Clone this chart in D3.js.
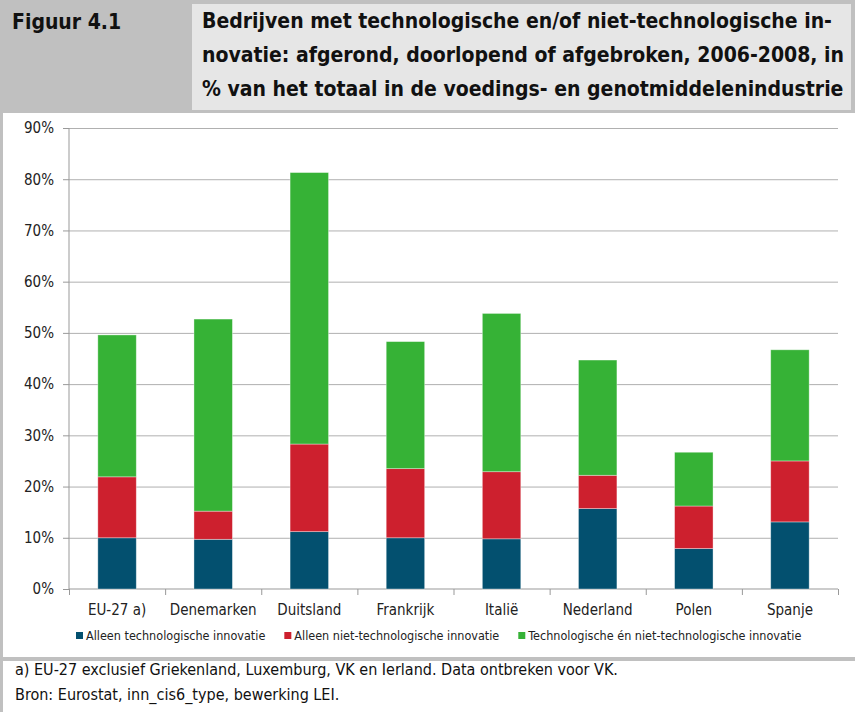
<!DOCTYPE html>
<html>
<head>
<meta charset="utf-8">
<script src="https://cdn.jsdelivr.net/npm/d3@7"></script>
<style>
  body { margin: 0; background: #c0c0c0; }
  svg { display: block; font-family: "DejaVu Sans Condensed", "Liberation Sans", sans-serif; }
</style>
</head>
<body>
<div id="chart"></div>
<script>
// ---------------------------DATA---------------------------//
const categories = ["EU-27 a)", "Denemarken", "Duitsland", "Frankrijk", "Italië", "Nederland", "Polen", "Spanje"];
const seriesNames = ["Alleen technologische innovatie", "Alleen niet-technologische innovatie", "Technologische én niet-technologische innovatie"];
const alleenTech = [10.0, 9.7, 11.2, 10.0, 9.8, 15.7, 7.9, 13.1];
const alleenNietTech = [11.9, 5.5, 17.1, 13.5, 13.1, 6.5, 8.3, 11.9];
const beide = [27.7, 37.5, 53.0, 24.8, 30.9, 22.5, 10.5, 21.7];
const yTicks = [0, 10, 20, 30, 40, 50, 60, 70, 80, 90];
const colors = ["#03506f", "#cd202e", "#36b236"];

const titleLabel = "Figuur 4.1";
const titleLines = [
  "Bedrijven met technologische en/of niet-technologische in-",
  "novatie: afgerond, doorlopend of afgebroken, 2006-2008, in",
  "% van het totaal in de voedings- en genotmiddelenindustrie"
];
const notes = [
  "a) EU-27 exclusief Griekenland, Luxemburg, VK en Ierland. Data ontbreken voor VK.",
  "Bron: Eurostat, inn_cis6_type, bewerking LEI."
];

// ---------------------------SVG----------------------------//
const width = 855, height = 712;
const font = '"DejaVu Sans Condensed", "Liberation Sans", sans-serif';
const svg = d3.select("#chart").append("svg")
    .attr("width", width)
    .attr("height", height);

svg.append("rect").attr("width", width).attr("height", height).attr("fill", "#c0c0c0");
// title box
svg.append("rect").attr("x", 192).attr("y", 4).attr("width", 659).attr("height", 106).attr("fill", "#e6e6e6");
// chart panel
svg.append("rect").attr("x", 3).attr("y", 113).attr("width", 852).attr("height", 544).attr("fill", "#fff");
// notes panel
svg.append("rect").attr("x", 3).attr("y", 661).attr("width", 852).attr("height", 51).attr("fill", "#fff");

svg.append("text")
    .attr("x", 12).attr("y", 29)
    .style("font-size", "21px").style("font-weight", "bold").attr("fill", "#111")
    .text(titleLabel);

svg.selectAll(".title-line")
    .data(titleLines)
    .enter().append("text")
    .attr("class", "title-line")
    .attr("x", 202)
    .attr("y", (d, i) => 28 + i * 34)
    .style("font-size", "21px").style("font-weight", "bold").attr("fill", "#111")
    .text(d => d);

// --------------------------SCALES--------------------------//
const plot = {left: 69, right: 838, top: 128, bottom: 589};

const x = d3.scaleBand()
    .domain(categories)
    .range([plot.left, plot.right])
    .paddingInner(0.6)
    .paddingOuter(0.3);

const y = d3.scaleLinear()
    .domain([0, 90])
    .range([plot.bottom, plot.top]);

const table = categories.map((c, i) => ({
    cat: c, s0: alleenTech[i], s1: alleenNietTech[i], s2: beide[i]
}));
const stacked = d3.stack().keys(["s0", "s1", "s2"])(table);

// ---------------------------AXES---------------------------//
// gridlines
svg.append("g")
    .attr("transform", "translate(" + plot.left + ",0)")
    .call(d3.axisLeft(y).tickValues(yTicks.slice(1)).tickSize(-(plot.right - plot.left)).tickFormat(""))
    .call(g => g.select(".domain").remove())
    .call(g => g.selectAll("line").attr("stroke", "#b0b0b0"));

// y axis
svg.append("g")
    .attr("transform", "translate(" + plot.left + ",0)")
    .call(d3.axisLeft(y).tickValues(yTicks).tickSize(6).tickPadding(9).tickFormat(d => d + "%"))
    .attr("font-family", font).attr("font-size", 15)
    .call(g => g.select(".domain").attr("stroke", "#999").attr("d", "M0," + plot.top + "V" + plot.bottom))
    .call(g => g.selectAll("line").attr("stroke", "#999"))
    .call(g => g.selectAll("text").attr("fill", "#222"));

// category boundary ticks
const xb = d3.scaleLinear().domain([0, categories.length]).range([plot.left, plot.right]);
svg.append("g")
    .attr("transform", "translate(0," + plot.bottom + ")")
    .call(d3.axisBottom(xb).tickValues(d3.range(categories.length + 1)).tickSize(6).tickFormat(""))
    .call(g => g.select(".domain").attr("stroke", "#999").attr("d", "M" + plot.left + ",0H" + plot.right))
    .call(g => g.selectAll("line").attr("stroke", "#999"));

// category labels
svg.append("g")
    .attr("transform", "translate(0," + plot.bottom + ")")
    .call(d3.axisBottom(x).tickSize(0).tickPadding(15))
    .attr("font-family", font).attr("font-size", 15)
    .call(g => g.select(".domain").remove())
    .call(g => g.selectAll("text").attr("fill", "#222"));

// ---------------------------BARS---------------------------//
svg.append("g").selectAll("g")
    .data(stacked)
    .enter().append("g")
    .attr("fill", (d, i) => colors[i])
    .selectAll("rect")
    .data(d => d)
    .enter().append("rect")
    .attr("x", d => x(d.data.cat))
    .attr("y", d => y(d[1]))
    .attr("width", x.bandwidth())
    .attr("height", d => y(d[0]) - y(d[1]))
    .attr("stroke", "rgba(255,255,255,0.45)")
    .attr("stroke-width", 0.8);

// --------------------------LEGEND--------------------------//
const legend = svg.append("g").attr("transform", "translate(76,636)");
let lx = 0;
seriesNames.forEach((name, i) => {
    const item = legend.append("g").attr("transform", "translate(" + lx + ",0)");
    item.append("rect")
        .attr("x", 0).attr("y", -4)
        .attr("width", 7).attr("height", 7)
        .attr("fill", colors[i]);
    const t = item.append("text")
        .attr("x", 10).attr("dy", "0.35em")
        .style("font-size", "12.5px").attr("fill", "#222")
        .text(name);
    lx += 10 + t.node().getComputedTextLength() + 19;
});

// --------------------------NOTES---------------------------//
svg.selectAll(".note")
    .data(notes)
    .enter().append("text")
    .attr("class", "note")
    .attr("x", 15)
    .attr("y", (d, i) => 675 + i * 25)
    .style("font-size", "16px").attr("fill", "#111")
    .text(d => d);
</script>
</body>
</html>
